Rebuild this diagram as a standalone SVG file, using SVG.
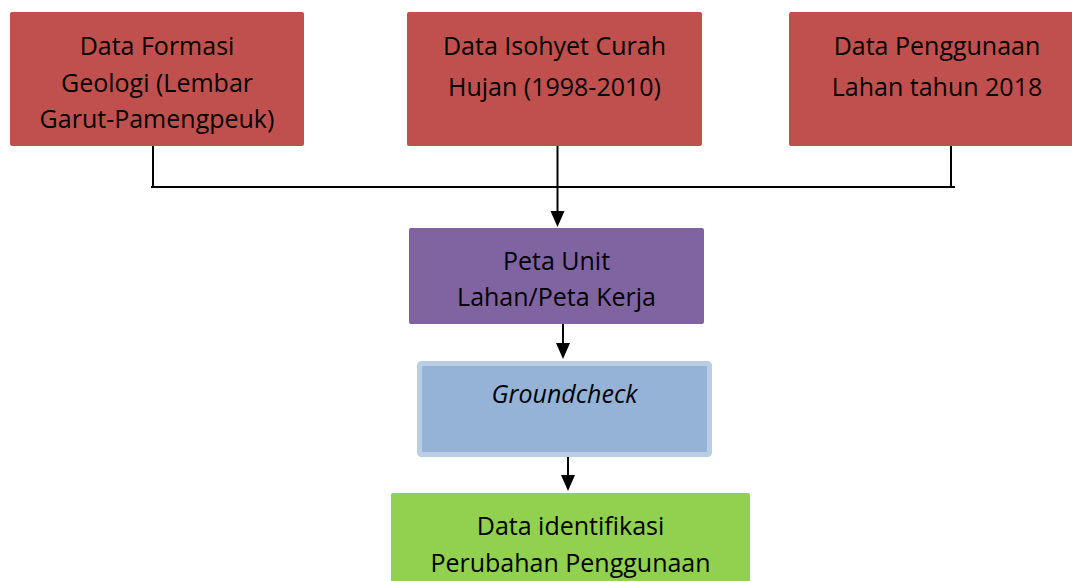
<svg xmlns="http://www.w3.org/2000/svg" width="1072" height="581" viewBox="0 0 1072 581">
<style>
text{font-family:"Open Sans","Liberation Sans",sans-serif;font-size:25px;fill:#000;text-anchor:middle}
.red{fill:#c0504d}
.line{stroke:#000;stroke-width:2;fill:none}
</style>
<defs>
<marker id="ah" markerWidth="14" markerHeight="16" refX="7" refY="16" orient="auto-start-reverse" markerUnits="userSpaceOnUse" viewBox="0 0 14 16">
<path d="M0,0 L14,0 L7,16 Z" fill="#000" transform="rotate(0)"/>
</marker>
</defs>
<rect width="1072" height="581" fill="#fff"/>
<g id="n1">
<rect class="red" x="10" y="12" width="294" height="134" rx="2"/>
<text x="157" y="55">Data Formasi</text>
<text x="157" y="92">Geologi (Lembar</text>
<text x="157" y="128">Garut-Pamengpeuk)</text>
</g>
<g id="n2">
<rect class="red" x="407" y="12" width="295" height="134" rx="2"/>
<text x="554.5" y="55">Data Isohyet Curah</text>
<text x="554.5" y="96">Hujan (1998-2010)</text>
</g>
<g id="n3">
<rect class="red" x="789" y="12" width="295" height="134" rx="2"/>
<text x="937" y="55">Data Penggunaan</text>
<text x="937" y="96">Lahan tahun 2018</text>
</g>
<g id="n4">
<rect x="409" y="228" width="295" height="96" rx="2" fill="#8064a2"/>
<text x="556.5" y="270">Peta Unit</text>
<text x="556.5" y="306">Lahan/Peta Kerja</text>
</g>
<g id="n5">
<rect x="419.5" y="363.5" width="290" height="91" rx="2" fill="#95b3d7" stroke="#b9cde5" stroke-width="5"/>
<text x="564.5" y="403" font-style="italic">Groundcheck</text>
</g>
<g id="n6">
<rect x="391" y="493" width="359" height="100" rx="2" fill="#92d050"/>
<text x="570.5" y="535">Data identifikasi</text>
<text x="570.5" y="572">Perubahan Penggunaan</text>
</g>
<g id="connectors">
<path class="line" d="M153,146 V187 M951,146 V187 M151,187 H955"/>
<path class="line" d="M557.5,146 V212"/>
<path d="M550.5,211 L564.5,211 L557.5,227 Z" fill="#000"/>
<path class="line" d="M563,324 V344"/>
<path d="M556,343 L570,343 L563,359 Z" fill="#000"/>
<path class="line" d="M568,457 V476"/>
<path d="M561,475 L575,475 L568,491 Z" fill="#000"/>
</g>
</svg>
